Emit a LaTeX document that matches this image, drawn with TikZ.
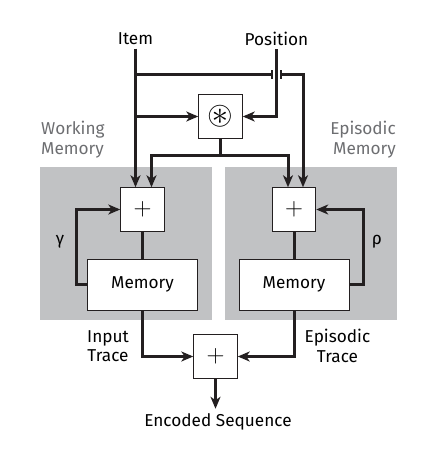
\documentclass[tikz,border=0pt]{standalone}
\usepackage{amsmath,amssymb}
\usepackage{fontspec}
\setmainfont{Fira Sans}
\usepackage{tikz}
\usetikzlibrary{arrows.meta,positioning}
\usepackage{xcolor}
\definecolor{wirec}{HTML}{231F20}
\definecolor{panelc}{HTML}{C1C2C4}
\definecolor{labelc}{HTML}{6D6E71}

\begin{document}
\begin{tikzpicture}[
  x=1pt, y=-1pt,
  font=\fontsize{17.2}{19.5}\selectfont,
  opbox/.style={draw=wirec, fill=white, line width=1pt, minimum size=43.5pt, inner sep=0pt},
  membox/.style={draw=wirec, fill=white, line width=1pt, minimum width=110pt, minimum height=51pt, inner sep=0pt},
  wire/.style={draw=wirec, line width=3pt},
  tick/.style={draw=wirec, line width=1.2pt},
  panellabel/.style={text=labelc, align=left, inner sep=0pt},
  >={Stealth[length=12pt, width=10pt, inset=3.5pt]}
]
\useasboundingbox (0,0) rectangle (429,455);

% grey panels
\fill[panelc] (40,166.5) rectangle (212,320);
\fill[panelc] (225,166.5) rectangle (397,320);

\node[panellabel, anchor=north west] (wmlabel) at (41,121) {Working\\Memory};
\node[panellabel, anchor=north east, align=right] (emlabel) at (396,121) {Episodic\\Memory};

\node (item) at (135.5,39) {Item};
\node (pos) at (276.5,39) {Position};
\node[opbox] (conv) at (220.5,116.5) {\fontsize{33}{33}\selectfont$\circledast$};

\node[opbox] (wmplus) at (142.5,209.5) {\fontsize{25}{25}\selectfont$+$};
\node[membox, below=27pt of wmplus] (wmmem) {Memory};
\node[opbox, right=107pt of wmplus] (emplus) {\fontsize{25}{25}\selectfont$+$};
\node[membox, below=27pt of emplus] (emmem) {Memory};

\node (gamma) at (60,242) {γ};
\node (rho) at (377,242) {ρ};

\node[opbox] (outplus) at (215.5,356.5) {\fontsize{25}{25}\selectfont$+$};
\node[align=center, inner sep=0pt] (intrace) at (108,346) {Input\\Trace};
\node[align=center, inner sep=0pt] (eptrace) at (337.5,346) {Episodic\\Trace};
\node (enc) at (218,422) {Encoded Sequence};

\coordinate (a1) at ([xshift=-7pt]wmplus.north);
\coordinate (a2) at ([xshift=9pt]wmplus.north);
\coordinate (b1) at ([xshift=-6pt]emplus.north);
\coordinate (b2) at ([xshift=9pt]emplus.north);
\coordinate (cross) at (pos.south |- 0,74.5);
\coordinate (outend) at ([yshift=-30pt]outplus.south);

% inputs
\draw[wire, ->] (item.south) -- (a1);
\draw[wire, ->] (item.south |- conv.west) -- (conv.west);
\draw[wire, ->] (pos.south) |- (conv.east);
\draw[wire] (item.south |- cross) -- ([xshift=-4.5pt]cross);
\draw[tick] ([shift={(-4.5,-4.5)}]cross) -- ++(0,9);
\draw[tick] ([shift={(4.5,-4.5)}]cross) -- ++(0,9);
\draw[wire, ->] ([xshift=4.5pt]cross) -| (b2);
\draw[wire] (conv.south) -- ++(0,16.5) coordinate (split);
\draw[wire, ->] (split) -| (a2);
\draw[wire, ->] (split) -| (b1);

% memory loops
\draw[wire] (wmplus) -- (wmmem);
\draw[wire] (emplus) -- (emmem);
\draw[wire, ->] (wmmem.west) -- ++(-11,0) |- (wmplus.west);
\draw[wire, ->] (emmem.east) -- ++(14,0) |- (emplus.east);

% output
\draw[wire, ->] (wmmem.south) |- (outplus.west);
\draw[wire, ->] (emmem.south) |- (outplus.east);
\draw[wire, ->] (outplus.south) -- (outend);
\end{tikzpicture}
\end{document}
